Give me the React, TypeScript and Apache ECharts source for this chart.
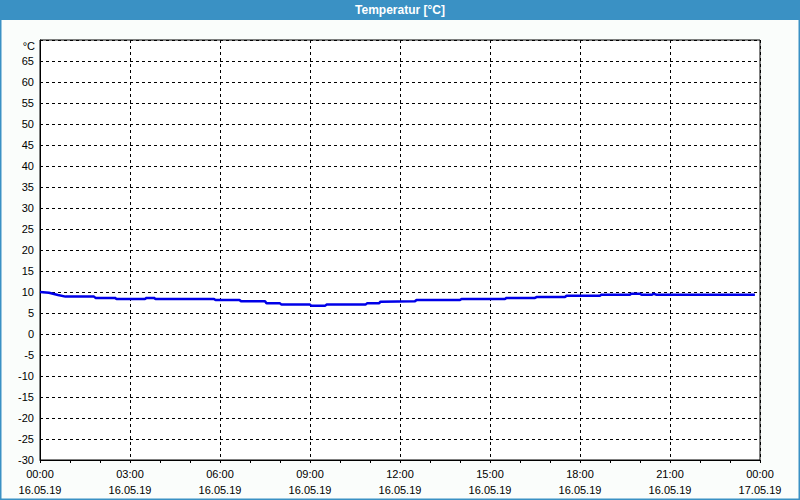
import React, { useEffect, useRef } from "react";
import * as echarts from "echarts";

const TITLE = "Temperatur [°C]";
const UNIT = "°C";
const DATE_START = "16.05.19";
const DATE_END = "17.05.19";
// hours since 16.05.19 00:00
const hours = [
  0.0, 0.3, 0.6, 0.85, 1.8, 1.85, 2.5, 2.55, 3.5, 3.55, 3.8, 3.85, 5.8, 5.85,
  6.65, 6.7, 7.5, 7.55, 8.0, 8.05, 9.0, 9.05, 9.5, 9.55, 10.85, 10.9, 11.3,
  11.35, 12.5, 12.55, 14.0, 14.05, 15.5, 15.55, 16.5, 16.55, 17.5, 17.55,
  18.67, 18.7, 19.67, 19.7, 20.0, 20.05, 20.4, 20.45, 20.55, 23.83,
];
const temps = [
  10.0, 9.8, 9.3, 8.9, 8.9, 8.6, 8.6, 8.35, 8.35, 8.6, 8.6, 8.35, 8.35, 8.1,
  8.1, 7.8, 7.8, 7.3, 7.3, 7.0, 7.0, 6.7, 6.7, 7.0, 7.0, 7.3, 7.3, 7.7, 7.8,
  8.1, 8.1, 8.35, 8.35, 8.6, 8.6, 8.8, 8.8, 9.1, 9.1, 9.35, 9.35, 9.6, 9.6,
  9.35, 9.35, 9.6, 9.35, 9.35,
];

const FONT = "Liberation Sans";

export default function App() {
  const ref = useRef<HTMLDivElement>(null);
  useEffect(() => {
    if (!ref.current) return;
    const chart = echarts.init(ref.current, undefined, { renderer: "svg" });
    const fmtX = (v: number) => {
      const h = Math.round(v) % 24;
      const hh = (h < 10 ? "0" : "") + h + ":00";
      return hh + "\n" + (v >= 24 ? DATE_END : DATE_START);
    };
    chart.setOption({
      animation: false,
      backgroundColor: "#fafdfb",
      grid: {
        left: 40,
        right: 40,
        top: 40,
        bottom: 40,
        show: true,
        backgroundColor: "#ffffff",
        borderColor: "#000000",
        borderWidth: 1,
      },
      graphic: [
        {
          type: "rect",
          shape: { x: 0, y: 0, width: 800, height: 20 },
          style: { fill: "#3a91c4" },
          z: 10,
        },
        {
          type: "text",
          x: 400,
          y: 10,
          style: {
            text: TITLE,
            fill: "#ffffff",
            font: `bold 12px "${FONT}"`,
            align: "center",
            verticalAlign: "middle",
          },
          z: 11,
        },
        {
          type: "rect",
          shape: { x: 0.5, y: 0, width: 799, height: 499.5 },
          style: { fill: "none", stroke: "#3a91c4", lineWidth: 2 },
          z: 10,
        },
        {
          type: "text",
          x: 35,
          y: 46,
          style: {
            text: UNIT,
            fill: "#000000",
            font: `11px "${FONT}"`,
            align: "right",
            verticalAlign: "middle",
          },
        },
      ],
      xAxis: {
        type: "value",
        min: 0,
        max: 24,
        interval: 3,
        axisLine: { show: true, onZero: false, lineStyle: { color: "#000", width: 1 } },
        axisTick: { show: true, length: 3, lineStyle: { color: "#000" } },
        minorTick: { show: true, splitNumber: 3, length: 3, lineStyle: { color: "#000" } },
        splitLine: {
          show: true,
          lineStyle: { color: "#000", type: [3, 3], width: 1 },
        },
        axisLabel: {
          formatter: fmtX,
          color: "#000",
          fontFamily: FONT,
          fontSize: 11,
          lineHeight: 16,
          margin: 6,
        },
      },
      yAxis: {
        type: "value",
        min: -30,
        max: 70,
        interval: 5,
        axisLine: { show: true, onZero: false, lineStyle: { color: "#000", width: 1 } },
        axisTick: { show: false },
        splitLine: {
          show: true,
          lineStyle: { color: "#000", type: [3, 3], width: 1 },
        },
        axisLabel: {
          formatter: (v: number) => (v === 70 ? "" : String(v)),
          color: "#000",
          fontFamily: FONT,
          fontSize: 11,
          margin: 6,
          padding: [3, 0, 0, 0],
        },
      },
      series: [
        {
          type: "line",
          data: hours.map((h, i) => [h, temps[i]]),
          showSymbol: false,
          lineStyle: { color: "#0000e8", width: 2.5 },
          z: 5,
        },
      ],
    });
    return () => chart.dispose();
  }, []);
  return (
    <div
      ref={ref}
      style={{ position: "fixed", left: 0, top: 0, width: 800, height: 500 }}
    />
  );
}
